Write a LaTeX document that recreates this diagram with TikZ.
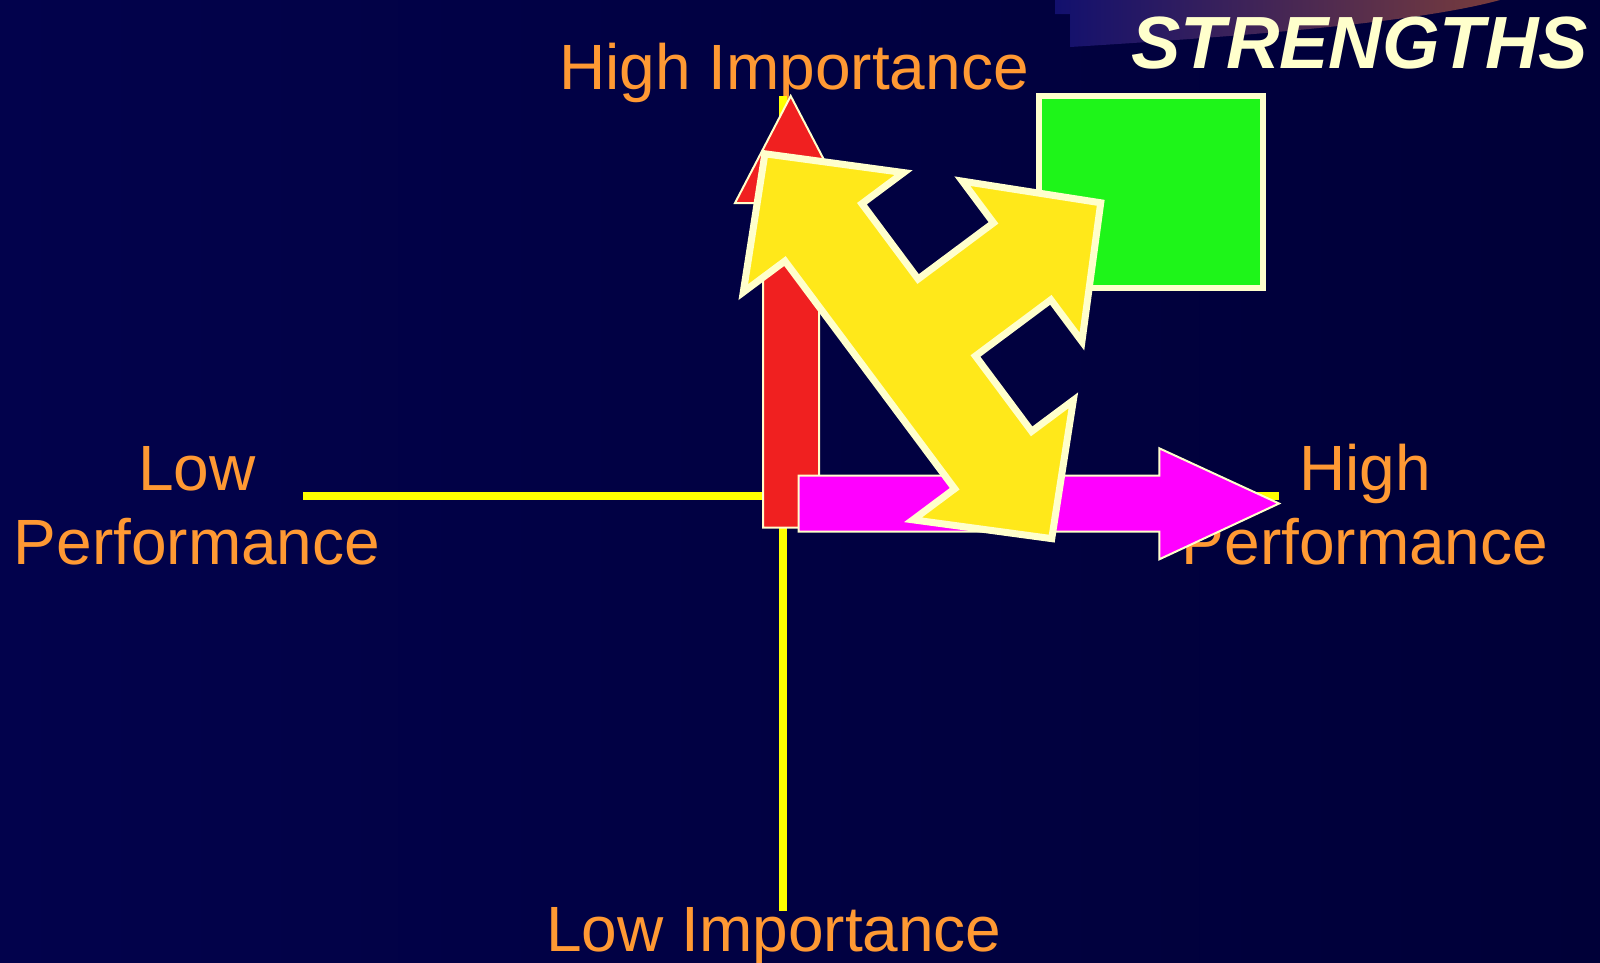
\documentclass[tikz,border=0pt]{standalone}
\usepackage{fontspec}
\setmainfont{Liberation Sans}
\definecolor{bgleft}{RGB}{2,2,76}
\definecolor{bgright}{RGB}{0,0,56}
\definecolor{labelorange}{RGB}{255,153,51}
\definecolor{cream}{RGB}{255,255,204}
\definecolor{arrowyellow}{RGB}{255,232,26}
\definecolor{arrowred}{RGB}{240,32,32}
\definecolor{arrowmagenta}{RGB}{255,0,255}
\definecolor{boxgreen}{RGB}{30,245,25}
\definecolor{axisyellow}{RGB}{255,255,0}
\definecolor{swooshleft}{RGB}{18,16,110}
\definecolor{swooshright}{RGB}{120,60,60}
\tikzset{
  axisline/.style={draw=axisyellow, line width=7.5pt},
  axislabel/.style={text=labelorange, font=\fontsize{64}{74}\selectfont, align=center, inner sep=0pt},
  titlelabel/.style={text=cream, font=\fontsize{74}{80}\selectfont\bfseries\itshape, inner sep=0pt},
  outlined/.style={draw=cream, line width=2pt, line join=miter},
  bigoutline/.style={draw=cream, line width=7pt, line join=miter},
}
\begin{document}
\begin{tikzpicture}[x=1pt,y=-1pt]
\useasboundingbox (0,0) rectangle (1600,962);
% background
\shade[left color=bgleft, right color=bgright] (0,0) rectangle (1600,962);
% swoosh behind title
\shade[left color=swooshleft, right color=swooshright]
  (1055,0) -- (1055,14) -- (1070,14) -- (1070,47)
  .. controls (1250,36) and (1420,22) .. (1500,0) -- cycle;
% title
\node[titlelabel, anchor=base east] (title) at (1588,68) {STRENGTHS};
% labels
\node[axislabel, anchor=base] (hiimp) at (794,89) {High Importance};
\node[axislabel, anchor=base] (loimp) at (774,951) {Low Importance};
\node[axislabel, anchor=base] (loperf) at (197,490) {Low};
\node[axislabel, anchor=base] (loperf2) at (197,564) {Performance};
\node[axislabel, anchor=base] (hiperf) at (1365,490) {High};
\node[axislabel, anchor=base] (hiperf2) at (1365,564) {Performance};
% axes
\coordinate (axtop) at (783,96);
\coordinate (axbot) at (783,911);
\coordinate (axleft) at (303,496);
\coordinate (axright) at (1279,496);
\draw[axisline] (axtop) -- (axbot);
\draw[axisline] (axleft) -- (axright);
% green box
\draw[bigoutline, line width=6pt, fill=boxgreen] (1039,96.3) rectangle (1262.7,287.7);
% red up arrow
\draw[outlined, fill=arrowred]
  (763,527.5) -- (763,203) -- (735,203) -- (790.7,96) -- (846.5,203)
  -- (819,203) -- (819,527.5) -- cycle;
% magenta right arrow
\draw[outlined, fill=arrowmagenta]
  (798.7,475.5) -- (1159.3,475.5) -- (1159.3,448.3) -- (1279,503.5)
  -- (1159.3,559.3) -- (1159.3,531.7) -- (798.7,531.7) -- cycle;
% yellow three-way arrow
\begin{scope}[shift={(908.3,346.2)}, rotate=-53.3, x=1pt, y=1pt]
\draw[bigoutline, fill=arrowyellow]
  (-240,0) -- (-142,-100) -- (-142,-48) -- (142,-48) -- (142,-100)
  -- (240,0) -- (142,100) -- (142,48) -- (48,48) -- (48,142)
  -- (100,142) -- (0,240) -- (-100,142) -- (-48,142) -- (-48,48)
  -- (-142,48) -- (-142,100) -- cycle;
\end{scope}
\end{tikzpicture}
\end{document}
